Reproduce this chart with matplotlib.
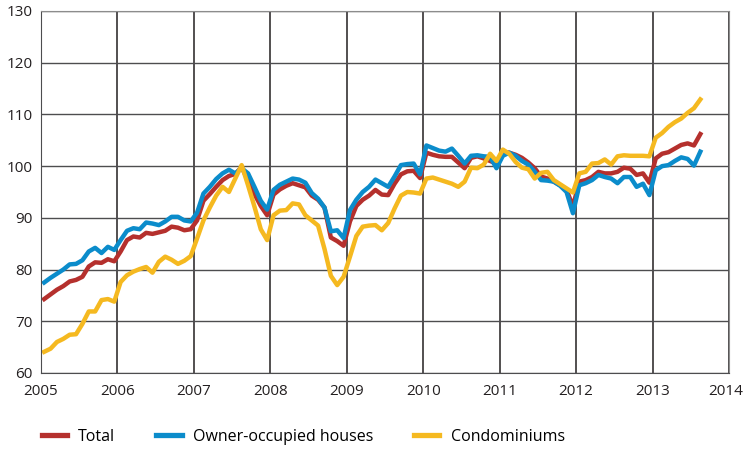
import matplotlib
matplotlib.use('Agg')
import matplotlib.pyplot as plt
import matplotlib.transforms as mtransforms
import numpy as np

# monthly index values, Jan 2005 - Aug 2013
total = [74.3, 75.2, 76.1, 76.8, 77.7, 78.0, 78.6, 80.6, 81.4, 81.3, 82.0, 81.6,
         83.5, 85.7, 86.4, 86.2, 87.1, 86.9, 87.2, 87.5, 88.3, 88.1, 87.6, 87.8,
         89.5, 93.3, 94.6, 96.0, 97.3, 98.1, 98.5, 99.8, 97.2, 94.6, 92.3, 90.5,
         94.5, 95.5, 96.2, 96.7, 96.3, 95.9, 94.3, 93.5, 92.0, 86.2, 85.5, 84.6,
         89.3, 92.3, 93.5, 94.3, 95.4, 94.5, 94.4, 96.6, 98.4, 99.0, 99.1, 97.7,
         102.6, 102.2, 101.9, 101.8, 101.8, 100.7, 99.6, 101.6, 101.9, 101.5, 101.0, 100.5,
         102.8, 102.6, 102.2, 101.6, 100.7, 99.6, 98.0, 97.6, 97.0, 96.3, 95.4, 92.2,
         97.0, 97.3, 97.9, 98.9, 98.6, 98.6, 98.9, 99.7, 99.5, 98.3, 98.6, 96.8,
         101.5, 102.4, 102.7, 103.4, 104.1, 104.4, 104.0, 106.2]

owner = [77.5, 78.4, 79.2, 80.0, 81.0, 81.1, 81.8, 83.5, 84.2, 83.2, 84.4, 83.8,
         85.7, 87.5, 88.0, 87.8, 89.1, 88.9, 88.6, 89.3, 90.2, 90.2, 89.5, 89.3,
         91.0, 94.7, 96.0, 97.5, 98.6, 99.3, 98.6, 99.6, 98.6, 96.0, 93.3, 91.6,
         95.4, 96.4, 97.0, 97.6, 97.4, 96.8, 94.8, 93.7, 92.0, 87.4, 87.6, 86.1,
         91.5, 93.5, 95.0, 96.0, 97.4, 96.7, 96.0, 98.0, 100.2, 100.4, 100.5, 98.4,
         104.0, 103.5, 103.0, 102.8, 103.4, 102.0, 100.5, 102.0, 102.1, 101.9, 101.8, 99.6,
         102.0, 102.6, 102.0, 101.0, 100.3, 98.9, 97.3, 97.2, 97.0, 96.2, 95.0, 90.9,
         96.3, 96.7, 97.3, 98.3, 97.9, 97.6, 96.7, 97.9, 97.9, 96.0, 96.6, 94.4,
         99.2, 100.0, 100.2, 101.0, 101.7, 101.4, 100.1, 102.8]

condo = [64.1, 64.7, 66.0, 66.6, 67.4, 67.5, 69.5, 71.9, 71.9, 74.1, 74.3, 73.8,
         77.6, 78.9, 79.6, 80.1, 80.5, 79.4, 81.5, 82.5, 81.9, 81.1, 81.7, 82.6,
         86.0, 89.5, 92.0, 94.3, 96.0, 95.0, 97.6, 100.2, 96.3, 92.2, 87.8, 85.7,
         90.5, 91.4, 91.5, 92.8, 92.6, 90.5, 89.5, 88.5, 84.0, 78.8, 77.0, 78.6,
         82.5, 86.5, 88.3, 88.5, 88.6, 87.6, 89.0, 91.8, 94.3, 95.0, 94.9, 94.7,
         97.6, 97.8, 97.4, 97.0, 96.6, 96.0, 97.0, 99.7, 99.6, 100.3, 102.4, 101.0,
         103.2, 102.4, 100.8, 99.7, 99.4, 97.6, 98.7, 98.9, 97.3, 96.5, 95.7, 94.9,
         98.6, 98.9, 100.5, 100.6, 101.3, 100.3, 101.9, 102.1, 102.0, 102.0, 102.0, 101.9,
         105.5, 106.4, 107.6, 108.5, 109.2, 110.3, 111.2, 112.9]

years = list(range(2005, 2015))
yticks = list(range(60, 131, 10))

plt.rcParams['font.family'] = ['Open Sans', 'DejaVu Sans']

# mid-month positions
x = 2005 + (np.arange(len(total)) + 0.5) / 12

fig = plt.figure(figsize=(7.44, 4.5), dpi=100)
ax = fig.add_axes([41 / 744, 1 - 373 / 450, 688 / 744, 362 / 450])

ax.plot(x, total, color='#b5302d', lw=3.2, label='Total')
ax.plot(x, owner, color='#0b8ccb', lw=3.2, label='Owner-occupied houses')
ax.plot(x, condo, color='#f5b920', lw=3.2, label='Condominiums')

ax.set_xlim(2005, 2014)
ax.set_ylim(60, 130)
ax.set_xticks(years)
ax.set_yticks(yticks)
ax.tick_params(length=0, labelsize=11, colors='#231f20')
ax.tick_params(axis='y', pad=6)
ax.tick_params(axis='x', pad=8)

# keep the last year label inside the figure
last = ax.get_xticklabels()[-1]
last.set_ha('right')
last.set_transform(last.get_transform() +
                   mtransforms.ScaledTranslation(0.145, 0, fig.dpi_scale_trans))

for yr in years:
    ax.axvline(yr, color='#231f20', lw=1.1, zorder=0)
for v in yticks:
    ax.axhline(v, color='#4d4d4f', lw=1.0, zorder=0)

for side in ['top', 'right']:
    ax.spines[side].set_color('#8c8c8c')
for side in ['left', 'bottom']:
    ax.spines[side].set_color('#4d4d4f')

leg = fig.legend(loc='center left', bbox_to_anchor=(41.5 / 744, 1 - 437 / 450), ncol=3,
                 frameon=False, fontsize=11.5, handlelength=1.6, handletextpad=0.7,
                 columnspacing=2.55, borderpad=0, borderaxespad=0)
for h in leg.get_lines():
    h.set_linewidth(3.8)

fig.savefig('out.png', dpi=100)
